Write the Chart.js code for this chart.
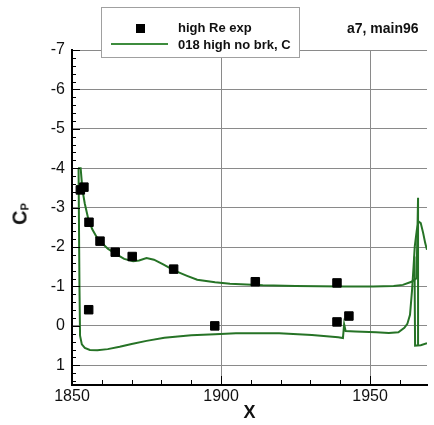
<!DOCTYPE html>
<html>
<head>
<meta charset="utf-8">
<script src="https://cdn.jsdelivr.net/npm/chart.js@4"></script>
<style>
  body { margin: 0; background: #fff; }
  #wrap { position: relative; width: 434px; height: 425px; }
  #chart { position: absolute; left: 0; top: 0; }
  #legend {
    position: absolute; left: 101px; top: 7px; width: 197px; height: 49px;
    background: #fff; border: 1px solid #a0a0a0;
    font: bold 13px "Liberation Sans", Arial, sans-serif; color: #111;
  }
  #legend .row { position: absolute; left: 76px; }
  #legend .sq { position: absolute; left: 34px; top: 16px; width: 9px; height: 9px; background: #000; }
  #legend .ln { position: absolute; left: 9px; top: 35px; width: 57px; height: 2px; background: #3d8c3d; }
  #note {
    position: absolute; left: 347px; top: 20px;
    font: bold 14px "Liberation Sans", Arial, sans-serif; color: #111;
  }
  #ytitle {
    position: absolute; left: 20px; top: 214px;
    transform: translate(-50%, -50%) rotate(-90deg);
    font: bold 20px "Liberation Sans", Arial, sans-serif; color: #111; white-space: nowrap;
  }
  #ytitle sub { font-size: 11px; vertical-align: -2px; }
</style>
</head>
<body>
<div id="wrap">
  <canvas id="chart" width="434" height="425"></canvas>
  <div id="legend">
    <div class="sq"></div>
    <div class="row" style="top:12px">high Re exp</div>
    <div class="ln"></div>
    <div class="row" style="top:29px">018 high no brk, C</div>
  </div>
  <div id="note">a7, main96</div>
  <div id="ytitle">C<sub>P</sub></div>
</div>
<script>
// experiment
const expX = [1852.8, 1854.0, 1855.7, 1859.4, 1864.5, 1870.2, 1884.1, 1855.6, 1897.9, 1911.5, 1938.9, 1938.9, 1942.9];
const expCp = [-3.45, -3.52, -2.63, -2.15, -1.87, -1.76, -1.44, -0.41, 0.0, -1.12, -1.09, -0.1, -0.25];

// computation, upper surface (ends at trailing edge spike)
const upperX = [1852.0, 1852.9, 1853.5, 1854.3, 1855.5, 1856.8, 1858.3, 1859.8, 1862.0, 1864.8, 1867.5, 1870.5, 1872.5, 1875.0, 1877.5, 1880.6, 1884.4, 1888.6, 1892.0, 1898.0, 1903.0, 1914.0, 1925.0, 1941.0, 1951.0, 1957.9, 1961.0, 1963.9, 1965.6, 1966.1, 1966.1];
const upperCp = [-4.0, -4.0, -3.45, -3.1, -2.7, -2.45, -2.25, -2.12, -1.96, -1.82, -1.7, -1.64, -1.66, -1.72, -1.68, -1.56, -1.4, -1.27, -1.17, -1.11, -1.07, -1.03, -1.01, -1.0, -1.0, -1.01, -1.04, -1.12, -1.21, -3.25, 0.5];

// lower surface
const lowerX = [1852.2, 1852.5, 1852.7, 1853.3, 1854.3, 1856.0, 1858.5, 1862.0, 1866.0, 1870.0, 1875.0, 1881.0, 1890.0, 1898.0, 1905.0, 1919.5, 1930.5, 1939.3, 1940.9, 1941.3, 1941.8, 1945.0, 1952.0, 1956.3, 1959.5, 1961.5, 1962.5, 1963.4, 1964.1, 1964.6, 1965.0, 1965.7, 1966.3, 1967.0, 1967.8, 1968.5, 1969.1];
const lowerCp = [-4.0, -1.0, 0.25, 0.47, 0.56, 0.61, 0.62, 0.59, 0.53, 0.46, 0.38, 0.3, 0.24, 0.21, 0.19, 0.19, 0.23, 0.29, 0.31, -0.04, 0.13, 0.14, 0.16, 0.18, 0.16, 0.05, -0.05, -0.28, -0.92, -1.51, -2.02, -2.44, -2.65, -2.61, -2.36, -2.1, -1.93];

// trailing piece
const teX = [1964.9, 1965.1, 1967.0, 1969.1];
const teCp = [-1.76, 0.5, 0.49, 0.44];

const xTicks = [1850, 1900, 1950];
const yTicks = [-7, -6, -5, -4, -3, -2, -1, 0, 1];

const green = '#267326';
const pts = (xs, ys) => xs.map((x, i) => ({ x: x, y: ys[i] }));

const lineSet = (label, xs, ys) => ({
  label: label,
  data: pts(xs, ys),
  showLine: true,
  borderColor: green,
  borderWidth: 2,
  pointRadius: 0,
  tension: 0,
  fill: false,
});

// small inward tick marks, major and minor
const tickMarks = {
  id: 'tickMarks',
  afterDraw(chart) {
    const c = chart.ctx;
    const xs = chart.scales.x, ys = chart.scales.y;
    const area = chart.chartArea;
    c.save();
    c.strokeStyle = '#000';
    c.lineWidth = 1;
    c.beginPath();
    for (let v = 1850; v <= 1969; v += 10) {
      const px = Math.round(xs.getPixelForValue(v)) + 0.5;
      const len = v % 50 === 0 ? 9 : 5;
      c.moveTo(px, area.bottom);
      c.lineTo(px, area.bottom - len);
    }
    for (let i = -35; i <= 7; i++) {
      const v = i / 5;
      const py = Math.round(ys.getPixelForValue(v)) + 0.5;
      const len = i % 5 === 0 ? 8 : 4;
      c.moveTo(area.left, py);
      c.lineTo(area.left + len, py);
    }
    c.stroke();
    c.restore();
  }
};

new Chart(document.getElementById('chart'), {
  type: 'scatter',
  data: {
    datasets: [
      {
        label: 'high Re exp',
        data: pts(expX, expCp),
        pointStyle: 'rect',
        pointRadius: 6,
        backgroundColor: '#000',
        borderColor: '#000',
        borderWidth: 1,
        order: 0,
      },
      lineSet('018 high no brk, C', upperX, upperCp),
      lineSet('lower', lowerX, lowerCp),
      lineSet('te', teX, teCp),
    ]
  },
  options: {
    responsive: false,
    animation: false,
    events: [],
    layout: { padding: { top: 50, left: 0, right: 0, bottom: 0 } },
    plugins: { legend: { display: false }, tooltip: { enabled: false } },
    scales: {
      x: {
        type: 'linear',
        min: 1850,
        max: 1969.1,
        afterBuildTicks: (s) => { s.ticks = xTicks.map(v => ({ value: v })); },
        afterFit: (s) => { s.height = 40; },
        ticks: {
          padding: 2,
          color: '#111',
          callback: (v) => String(v),
          font: { family: '"Liberation Sans", Arial, sans-serif', size: 16 },
        },
        grid: {
          drawTicks: false,
          color: (ctx) => ctx.tick && ctx.tick.value === 1850 ? 'rgba(0,0,0,0)' : '#8a8a8a',
          lineWidth: 1,
        },
        border: { color: '#000', width: 2 },
        title: {
          display: true,
          text: 'X',
          color: '#111',
          padding: { top: 0, bottom: 1 },
          font: { family: '"Liberation Sans", Arial, sans-serif', size: 18, weight: 'bold' },
        },
      },
      y: {
        type: 'linear',
        reverse: true,
        min: -7,
        max: 1.5,
        afterBuildTicks: (s) => { s.ticks = yTicks.map(v => ({ value: v })); },
        afterFit: (s) => { s.width = 72; },
        ticks: {
          padding: 7,
          color: '#111',
          callback: (v) => String(v),
          font: { family: '"Liberation Sans", Arial, sans-serif', size: 16 },
        },
        grid: {
          drawTicks: false,
          color: '#8a8a8a',
          lineWidth: 1,
        },
        border: { color: '#000', width: 2 },
      },
    },
  },
  plugins: [tickMarks],
});
</script>
</body>
</html>
